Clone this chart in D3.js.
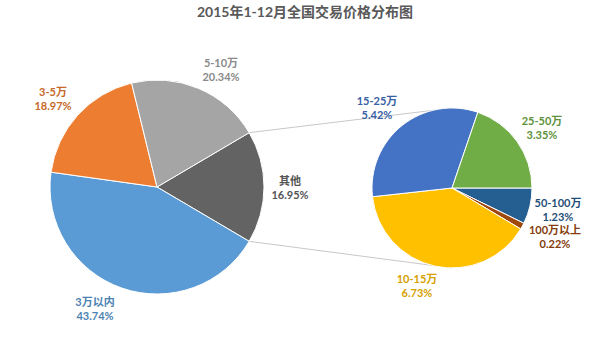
<!DOCTYPE html>
<html>
<head>
<meta charset="utf-8">
<script src="https://cdn.jsdelivr.net/npm/d3@7"></script>
<style>
  html, body { margin: 0; padding: 0; background: #fff; }
  text { font-family: Lato, "Noto Sans CJK SC", sans-serif; font-weight: bold; }
</style>
</head>
<body>
<svg id="chart"></svg>
<script>
// main pie
var mainCats = ["3万以内", "3-5万", "5-10万"];
var mainValues = [43.74, 18.97, 20.34];
var otherName = "其他";
// second pie (breakdown of 其他)
var subCats = ["10-15万", "15-25万", "25-50万", "50-100万", "100万以上"];
var subValues = [6.73, 5.42, 3.35, 1.23, 0.22];

var colors = {
  "3万以内": "#5b9bd5", "3-5万": "#ed7d31", "5-10万": "#a5a5a5", "其他": "#636363",
  "10-15万": "#ffc000", "15-25万": "#4472c4", "25-50万": "#70ad47",
  "50-100万": "#255e91", "100万以上": "#9e480e"
};

var setup = {
  width: 600, height: 339,
  c1: [157, 187], r1: 107,
  c2: [452, 188], r2: 80
};

// label anchors (center of the two text lines)
var labelPos = {
  "3万以内": [95, 309], "3-5万": [53, 99], "5-10万": [221, 70], "其他": [290, 188],
  "10-15万": [417, 286], "15-25万": [377, 108], "25-50万": [542, 128],
  "50-100万": [558, 210], "100万以上": [555, 237]
};

var svg = d3.select("#chart")
  .attr("width", setup.width)
  .attr("height", setup.height);

svg.append("text")
  .attr("x", 305).attr("y", 17)
  .attr("text-anchor", "middle")
  .attr("fill", "#595959")
  .attr("font-size", 14)
  .text("2015年1-12月全国交易价格分布图");

var otherValue = d3.sum(subValues);
var mainData = [{name: otherName, value: otherValue}]
  .concat(mainCats.map((c, i) => ({name: c, value: mainValues[i]})));
var total = d3.sum(mainData, d => d.value);
var start1 = Math.PI / 2 - Math.PI * otherValue / total;

var pie1 = d3.pie().sort(null).value(d => d.value)
  .startAngle(start1).endAngle(start1 + 2 * Math.PI);
var arcs1 = pie1(mainData);

// second pie starts at 3 o'clock with 50-100万
var subData = subCats.map((c, i) => ({name: c, value: subValues[i]}));
var subOrdered = subData.slice(3).concat(subData.slice(0, 3));
var pie2 = d3.pie().sort(null).value(d => d.value)
  .startAngle(Math.PI / 2).endAngle(Math.PI / 2 + 2 * Math.PI);
var arcs2 = pie2(subOrdered);

// connector lines
var other = arcs1[0];
var pt = (c, r, a) => [c[0] + r * Math.sin(a), c[1] - r * Math.cos(a)];
var line = d3.line();
[[other.startAngle, setup.c2[1] - setup.r2], [other.endAngle, setup.c2[1] + setup.r2]]
  .forEach(function(p) {
    svg.append("path")
      .attr("d", line([pt(setup.c1, setup.r1, p[0]), [setup.c2[0], p[1]]]))
      .attr("stroke", "#c8c8c8")
      .attr("stroke-width", 1)
      .attr("fill", "none");
  });

var arc1 = d3.arc().innerRadius(0).outerRadius(setup.r1);
var arc2 = d3.arc().innerRadius(0).outerRadius(setup.r2);

svg.append("g")
  .attr("transform", "translate(" + setup.c1 + ")")
  .selectAll("path").data(arcs1).join("path")
  .attr("d", arc1)
  .attr("fill", d => colors[d.data.name])
  .attr("stroke", "#fff")
  .attr("stroke-width", 1);

svg.append("g")
  .attr("transform", "translate(" + setup.c2 + ")")
  .selectAll("path").data(arcs2).join("path")
  .attr("d", arc2)
  .attr("fill", d => colors[d.data.name])
  .attr("stroke", "#fff")
  .attr("stroke-width", 1);

// labels
var labels = mainData.concat(subData);
var lg = svg.append("g").selectAll("text").data(labels).join("text")
  .attr("text-anchor", "middle")
  .attr("font-size", 11)
  .attr("fill", d => d3.color(colors[d.name]).darker(0.5))
  .attr("transform", d => "translate(" + labelPos[d.name] + ")");
lg.append("tspan").attr("x", 0).attr("y", -3).text(d => d.name);
lg.append("tspan").attr("x", 0).attr("y", 11).text(d => d.value.toFixed(2) + "%");
</script>
</body>
</html>
